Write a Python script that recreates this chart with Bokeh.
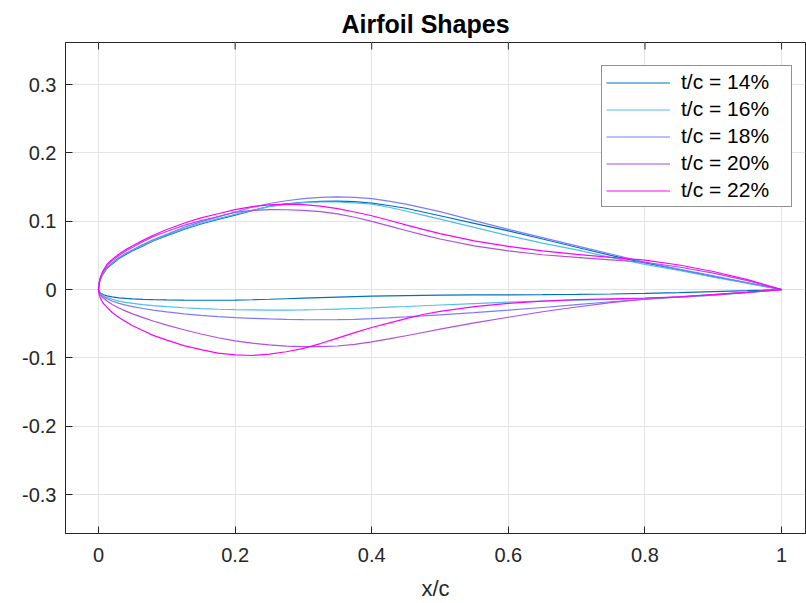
from bokeh.plotting import figure
from bokeh.models import Range1d, FixedTicker, Legend, LegendItem
from bokeh.embed import file_html
from bokeh.resources import INLINE

# ---- data ----
x_stations = [0, 0.001, 0.0025, 0.005, 0.0075, 0.0125, 0.02, 0.03, 0.04, 0.05, 0.065, 0.08,
              0.1, 0.125, 0.15, 0.175, 0.2, 0.225, 0.25, 0.275, 0.3, 0.325, 0.35, 0.375,
              0.4, 0.425, 0.45, 0.475, 0.5, 0.55, 0.6, 0.65, 0.7, 0.75, 0.8, 0.85, 0.9, 0.95, 1.0]

upper_14 = [0, 0.009, 0.014, 0.020, 0.024, 0.031, 0.0375, 0.0455, 0.0515, 0.057, 0.064, 0.071,
            0.079, 0.088, 0.096, 0.1025, 0.109, 0.1155, 0.122, 0.1255, 0.1275, 0.129, 0.1295, 0.1288,
            0.1265, 0.123, 0.119, 0.1135, 0.108, 0.097, 0.086, 0.074, 0.062, 0.050, 0.039, 0.029, 0.019, 0.010, 0]
lower_14 = [0, -0.0028, -0.0045, -0.0063, -0.0076, -0.0093, -0.0108, -0.0121, -0.013, -0.0136, -0.0143, -0.0148,
            -0.0152, -0.0155, -0.0156, -0.0156, -0.0155, -0.0149, -0.0142, -0.0134, -0.0126, -0.0118, -0.011, -0.0103,
            -0.0097, -0.0092, -0.0088, -0.0084, -0.0081, -0.0078, -0.0077, -0.0075, -0.0071, -0.0065, -0.0056, -0.0045,
            -0.0031, -0.0016, 0]

upper_16 = [0, 0.0092, 0.0145, 0.0205, 0.025, 0.032, 0.0385, 0.0465, 0.0525, 0.058, 0.065, 0.072,
            0.080, 0.089, 0.097, 0.104, 0.110, 0.1158, 0.1215, 0.125, 0.1272, 0.1282, 0.1282, 0.127,
            0.125, 0.1205, 0.115, 0.109, 0.103, 0.091, 0.079, 0.068, 0.058, 0.047, 0.037, 0.028, 0.018, 0.009, 0]
lower_16 = [0, -0.0032, -0.0052, -0.0073, -0.009, -0.0115, -0.0142, -0.0168, -0.0187, -0.0202, -0.022, -0.0235,
            -0.025, -0.0266, -0.0278, -0.0288, -0.0294, -0.0298, -0.030, -0.030, -0.0297, -0.0292, -0.0285, -0.0277,
            -0.0268, -0.0258, -0.0248, -0.0237, -0.0226, -0.0205, -0.0185, -0.0167, -0.0155, -0.0144, -0.013, -0.011,
            -0.008, -0.0042, 0]

upper_18 = [0, 0.0092, 0.0145, 0.021, 0.0255, 0.032, 0.039, 0.047, 0.053, 0.058, 0.066, 0.073,
            0.081, 0.091, 0.099, 0.1065, 0.1135, 0.1205, 0.126, 0.130, 0.133, 0.135, 0.1358, 0.135,
            0.133, 0.1295, 0.125, 0.1195, 0.114, 0.101, 0.088, 0.076, 0.064, 0.052, 0.040, 0.030, 0.020, 0.010, 0]
lower_18 = [0, -0.0037, -0.006, -0.0085, -0.0105, -0.0135, -0.0168, -0.0202, -0.0228, -0.025, -0.0277, -0.030,
            -0.0327, -0.0355, -0.0378, -0.0396, -0.041, -0.0421, -0.043, -0.0436, -0.044, -0.0442, -0.0441, -0.0435,
            -0.0425, -0.0413, -0.040, -0.0386, -0.037, -0.0338, -0.0302, -0.0262, -0.0221, -0.0178, -0.0142, -0.011,
            -0.008, -0.0042, 0]

upper_20 = [0, 0.010, 0.016, 0.023, 0.0275, 0.035, 0.042, 0.050, 0.0565, 0.062, 0.070, 0.0775,
            0.085, 0.094, 0.101, 0.107, 0.113, 0.1158, 0.117, 0.1168, 0.1158, 0.114, 0.1108, 0.1058,
            0.0998, 0.0932, 0.0865, 0.080, 0.074, 0.064, 0.0565, 0.051, 0.047, 0.0435, 0.040, 0.033, 0.024, 0.013, 0]
lower_20 = [0, -0.0045, -0.0075, -0.0105, -0.0128, -0.0168, -0.0218, -0.027, -0.0315, -0.0355, -0.041, -0.046,
            -0.052, -0.0588, -0.065, -0.0705, -0.075, -0.0785, -0.081, -0.0827, -0.0835, -0.0836, -0.0826, -0.0802,
            -0.0765, -0.0722, -0.0676, -0.0628, -0.058, -0.0488, -0.0405, -0.0325, -0.0255, -0.019, -0.0142, -0.0105,
            -0.0072, -0.0037, 0]

upper_22 = [0, 0.0105, 0.017, 0.024, 0.029, 0.037, 0.044, 0.052, 0.0585, 0.064, 0.072, 0.0795,
            0.088, 0.097, 0.105, 0.111, 0.117, 0.1215, 0.124, 0.125, 0.1242, 0.122, 0.1185, 0.1135,
            0.108, 0.1015, 0.0948, 0.0882, 0.0818, 0.0712, 0.0632, 0.0565, 0.0515, 0.047, 0.043, 0.036, 0.0265, 0.0145, 0]
lower_22 = [0, -0.0075, -0.0118, -0.0167, -0.0205, -0.026, -0.0335, -0.041, -0.047, -0.053, -0.060, -0.067,
            -0.074, -0.082, -0.088, -0.093, -0.0955, -0.0965, -0.0945, -0.091, -0.086, -0.079, -0.071, -0.063,
            -0.0555, -0.049, -0.0425, -0.0365, -0.032, -0.025, -0.0203, -0.0168, -0.0148, -0.0135, -0.0123, -0.0105,
            -0.0075, -0.004, 0]

series_labels = ["t/c = 14%", "t/c = 16%", "t/c = 18%", "t/c = 20%", "t/c = 22%"]
series_colors = ["#0072BD", "#4DBEEE", "#7B7BFF", "#B04FE6", "#FF00FF"]
uppers = [upper_14, upper_16, upper_18, upper_20, upper_22]
lowers = [lower_14, lower_16, lower_18, lower_20, lower_22]

x_ticks = [0, 0.2, 0.4, 0.6, 0.8, 1.0]
y_ticks = [-0.3, -0.2, -0.1, 0, 0.1, 0.2, 0.3]

FONT = "Liberation Sans"
AXC = "#262626"
X_LIM = (-0.0483, 1.035)
Y_LIM = (-0.357, 0.3616)

p = figure(width=806, height=603, output_backend="svg", toolbar_location=None,
           x_range=Range1d(*X_LIM), y_range=Range1d(*Y_LIM),
           min_border_left=65, min_border_right=1, min_border_top=42, min_border_bottom=70)

p.title.text = "Airfoil Shapes"
p.title.align = "left"
p.title.offset = 276
p.title.text_font = FONT
p.title.text_font_size = "25px"
p.title.text_font_style = "bold"
p.title.text_color = "black"
p.title.standoff = 10

p.outline_line_color = AXC
p.outline_line_width = 1
p.outline_line_alpha = 1

for ax in (p.xaxis[0], p.yaxis[0]):
    ax.major_label_text_font = FONT
    ax.major_label_text_font_size = "20px"
    ax.major_label_text_color = AXC
    ax.axis_line_color = AXC
    ax.major_tick_line_color = AXC
    ax.major_tick_in = 7
    ax.major_tick_out = 0
    ax.minor_tick_line_color = None
    ax.axis_label_text_font = FONT
    ax.axis_label_text_font_style = "normal"
    ax.axis_label_text_font_size = "22px"
    ax.axis_label_text_color = AXC

p.xaxis[0].ticker = FixedTicker(ticks=x_ticks)
p.xaxis[0].major_label_overrides = {0: "0", 0.2: "0.2", 0.4: "0.4", 0.6: "0.6", 0.8: "0.8", 1.0: "1"}
p.xaxis[0].major_label_standoff = 14
p.xaxis[0].axis_label = "x/c"
p.xaxis[0].axis_label_standoff = 11

p.yaxis[0].ticker = FixedTicker(ticks=y_ticks)
p.yaxis[0].major_label_overrides = {-0.3: "-0.3", -0.2: "-0.2", -0.1: "-0.1", 0: "0",
                                     0.1: "0.1", 0.2: "0.2", 0.3: "0.3"}
p.yaxis[0].major_label_standoff = 9

p.xgrid.ticker = FixedTicker(ticks=x_ticks)
p.ygrid.ticker = FixedTicker(ticks=y_ticks)
p.grid.grid_line_color = "#e3e3e3"
p.grid.grid_line_width = 1

# inward ticks on the top edge of the box (x tick positions)
tick_len = 7 / 683.0
p.segment(x0=x_ticks, x1=x_ticks, y0=[Y_LIM[1]] * len(x_ticks),
          y1=[Y_LIM[1] - tick_len] * len(x_ticks), line_color=AXC, line_width=1)

items = []
for lab, col, up, lo in zip(series_labels, series_colors, uppers, lowers):
    xs = list(reversed(x_stations)) + x_stations[1:]
    ys = list(reversed(up)) + lo[1:]
    r = p.line(xs, ys, line_color=col, line_width=1.2)
    items.append(LegendItem(label=lab, renderers=[r]))

legend = Legend(items=items, location=(536, 326))
legend.label_text_font = FONT
legend.label_text_font_size = "21px"
legend.label_text_color = "black"
legend.glyph_width = 64
legend.glyph_height = 21
legend.label_height = 21
legend.label_width = 106
legend.label_standoff = 11
legend.spacing = 3
legend.padding = 4
legend.margin = 0
legend.border_line_color = AXC
legend.border_line_width = 1
legend.background_fill_color = "white"
legend.background_fill_alpha = 1
p.add_layout(legend, "center")

open("out.html", "w").write(file_html(p, INLINE))
